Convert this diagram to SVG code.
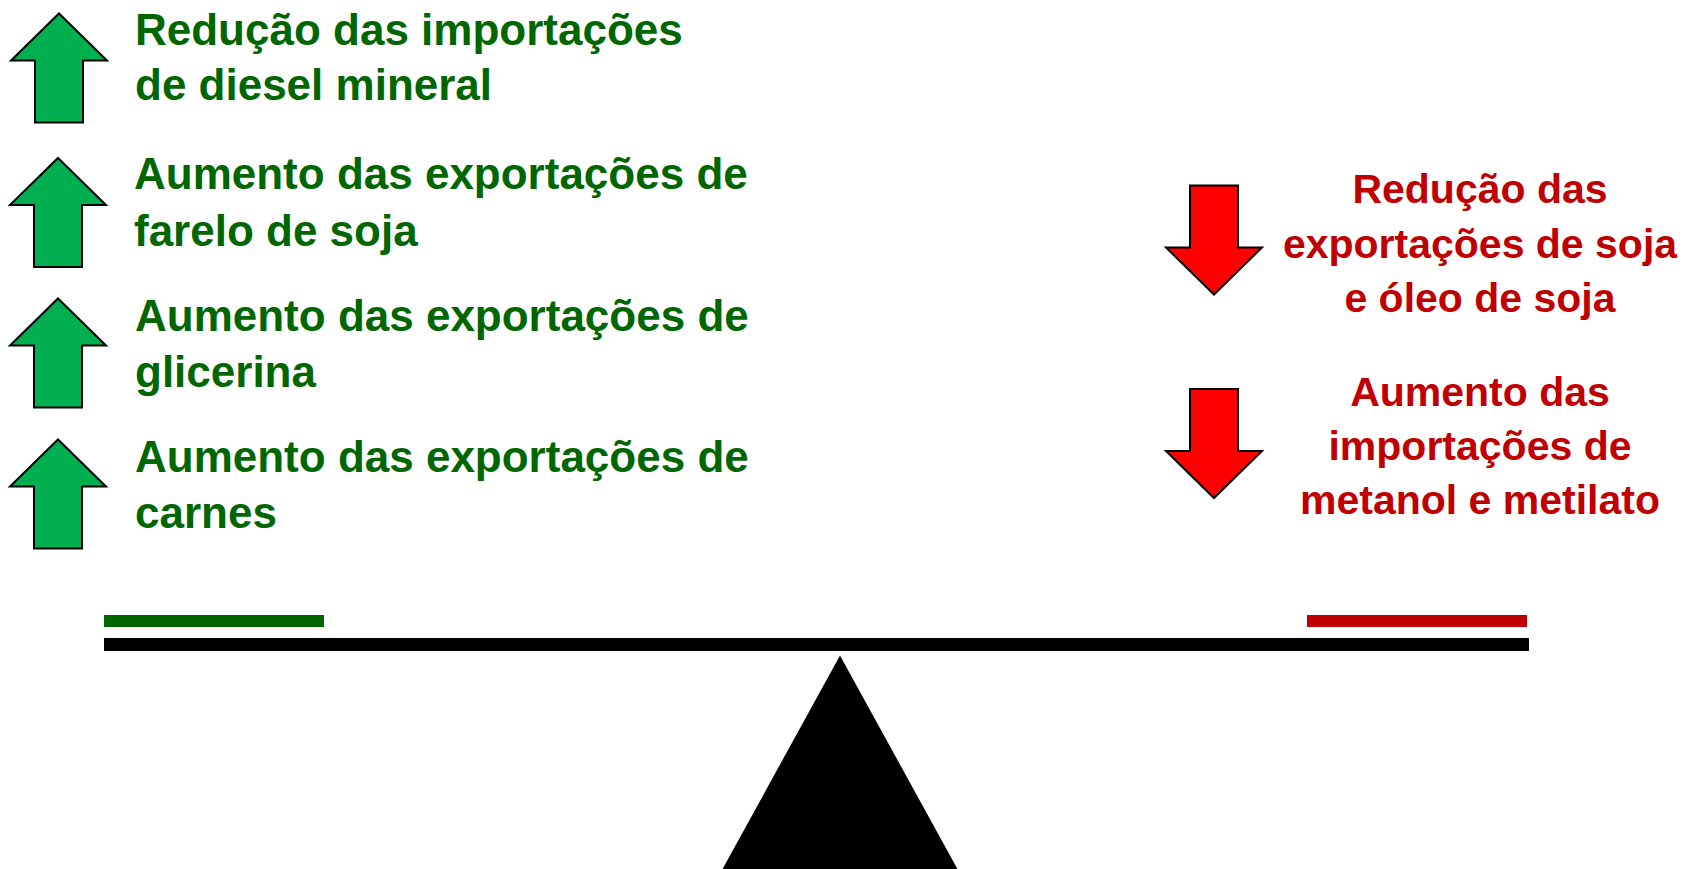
<svg xmlns="http://www.w3.org/2000/svg" width="1684" height="869" viewBox="0 0 1684 869">
  <defs>
    <style>
      .up { fill: #00B050; stroke: #000; stroke-width: 2; stroke-linejoin: miter; }
      .down { fill: #FF0000; stroke: #000; stroke-width: 2; stroke-linejoin: miter; }
      .gt { font-family: "Liberation Sans", Arial, sans-serif; font-weight: bold; font-size: 44px; fill: #006600; }
      .rt { font-family: "Liberation Sans", Arial, sans-serif; font-weight: bold; font-size: 41px; fill: #C00000; text-anchor: middle; }
    </style>
    <path id="uparrow" d="M0,0 L48,47 L24,47 L24,109 L-24,109 L-24,47 L-48,47 Z"/>
    <path id="downarrow" d="M-24,0 L24,0 L24,62 L48,62 L0,109 L-48,62 L-24,62 Z"/>
  </defs>
  <rect width="1684" height="869" fill="#fff"/>

  <g id="node-diesel">
    <use href="#uparrow" class="up" x="59" y="13.5"/>
    <text class="gt" x="135" y="45">Redução das importações</text>
    <text class="gt" x="135" y="100">de diesel mineral</text>
  </g>
  <g id="node-farelo">
    <use href="#uparrow" class="up" x="58" y="158"/>
    <text class="gt" x="134" y="189">Aumento das exportações de</text>
    <text class="gt" x="134" y="246">farelo de soja</text>
  </g>
  <g id="node-glicerina">
    <use href="#uparrow" class="up" x="58" y="298.5"/>
    <text class="gt" x="135" y="331">Aumento das exportações de</text>
    <text class="gt" x="135" y="387">glicerina</text>
  </g>
  <g id="node-carnes">
    <use href="#uparrow" class="up" x="58" y="439.5"/>
    <text class="gt" x="135" y="472">Aumento das exportações de</text>
    <text class="gt" x="135" y="528">carnes</text>
  </g>

  <g id="node-soja">
    <use href="#downarrow" class="down" x="1214" y="185.5"/>
    <text class="rt" x="1480" y="203">Redução das</text>
    <text class="rt" x="1480" y="258">exportações de soja</text>
    <text class="rt" x="1480" y="312">e óleo de soja</text>
  </g>
  <g id="node-metanol">
    <use href="#downarrow" class="down" x="1214" y="389"/>
    <text class="rt" x="1480" y="406">Aumento das</text>
    <text class="rt" x="1480" y="460">importações de</text>
    <text class="rt" x="1480" y="514">metanol e metilato</text>
  </g>

  <g id="balance">
    <rect x="104" y="615" width="220" height="12" fill="#006600"/>
    <rect x="1307" y="615" width="220" height="12" fill="#C00000"/>
    <rect x="104" y="638" width="1425" height="13" fill="#000"/>
    <polygon points="840,655.5 958,870 722,870" fill="#000"/>
  </g>
  <g id="connectors"></g>
</svg>
